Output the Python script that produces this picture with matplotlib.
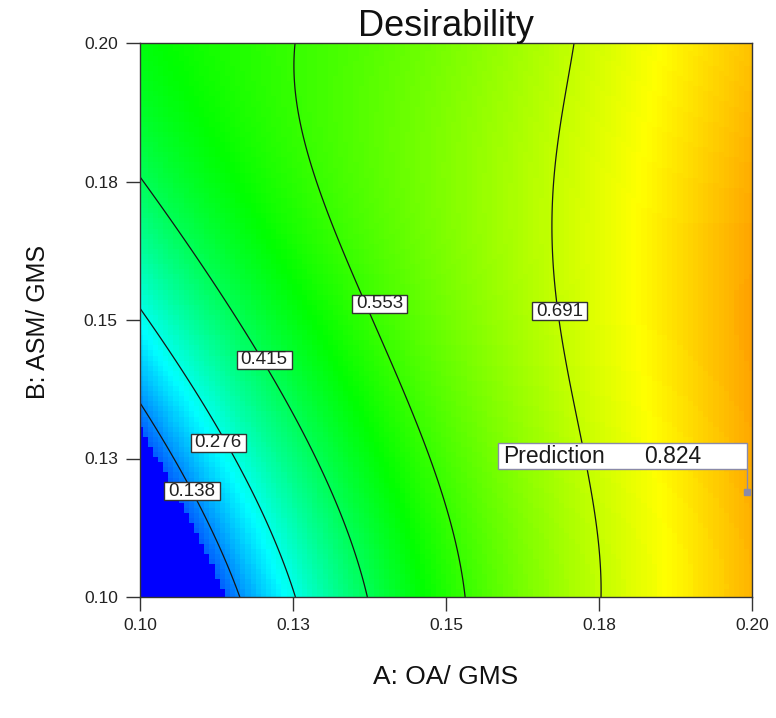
import numpy as np
import matplotlib.pyplot as plt
from matplotlib.colors import LinearSegmentedColormap
from matplotlib.patches import Rectangle

plt.rcParams['font.family'] = ['Liberation Sans', 'DejaVu Sans']

# response surface for overall desirability, coded factors x = (A-0.15)/0.05, y = (B-0.15)/0.05
# term order: 1, x, y, x2, xy, y2, x3, x2y, xy2, y3, x4, x3y, x2y2, xy3, y4
surface_coef = [0.6098, 0.2247, 0.0621, -0.0340, -0.1286, -0.0527,
                0.0656, 0.1241, 0.0457, -0.0182,
                -0.0250, -0.0583, -0.0341, 0.0114, 0.0163]
zero_below = 0.095   # desirability drops to zero past this point

levels = [0.138, 0.276, 0.415, 0.553, 0.691]
label_a = [0.1085, 0.1128, 0.1203, 0.1392, 0.1686]
label_b = [0.1191, 0.1278, 0.1428, 0.1529, 0.1516]

tick_vals = [0.10, 0.125, 0.15, 0.175, 0.20]
tick_text = ['0.10', '0.13', '0.15', '0.18', '0.20']

pred_a = 0.1992
pred_b = 0.1190
pred_d = 0.824


def desirability(a, b):
    x = (a - 0.15) / 0.05
    y = (b - 0.15) / 0.05
    d = np.zeros_like(x)
    k = 0
    for n in range(5):
        for j in range(n + 1):
            d = d + surface_coef[k] * x ** (n - j) * y ** j
            k += 1
    return d


cmap = LinearSegmentedColormap.from_list('desir', ['#0000ff', '#00ffff', '#00ff00', '#ffff00', '#ff0000'])

fig = plt.figure(figsize=(7.76, 7.18), dpi=100)
ax = fig.add_axes([140 / 776, 1 - 597 / 718, 612 / 776, 554 / 718])

# coloured map on a coarse grid
a = np.linspace(0.10, 0.20, 120)
b = np.linspace(0.10, 0.20, 110)
A, B = np.meshgrid(a, b)
D = desirability(A, B)
D = np.where(D < zero_below, 0.0, D)
ax.pcolormesh(A, B, D, cmap=cmap, vmin=0, vmax=1, shading='nearest')

# contour lines on a fine grid
af = np.linspace(0.10, 0.20, 400)
Af, Bf = np.meshgrid(af, af)
ax.contour(Af, Bf, desirability(Af, Bf), levels=levels, colors='#151515', linewidths=0.9)

for lev, la, lb in zip(levels, label_a, label_b):
    ax.add_patch(Rectangle((la - 0.0045, lb - 0.00165), 0.009, 0.0033, facecolor='white',
                           edgecolor='#333333', linewidth=1, zorder=4))
    ax.text(la, lb, '%.3f' % lev, ha='center', va='center', fontsize=13.5, color='#222222', zorder=5)

# prediction flag
ax.add_patch(Rectangle((0.1585, 0.1231), pred_a - 0.1585, 0.0047, facecolor='white',
                       edgecolor='#8a8aa8', linewidth=1, zorder=4))
ax.text(0.1593, 0.12545, 'Prediction', ha='left', va='center', fontsize=16.5, color='#1a1a1a', zorder=5)
ax.text(0.1824, 0.12545, '%.3f' % pred_d, ha='left', va='center', fontsize=16.5, color='#1a1a1a', zorder=5)
ax.plot([pred_a, pred_a], [0.1231, pred_b], color='#8a8aa8', lw=1, zorder=4, clip_on=False)
ax.plot([pred_a], [pred_b], 's', ms=4, color='#8a8aa8', zorder=5, clip_on=False)

ax.set_xlim(0.10, 0.20)
ax.set_ylim(0.10, 0.20)
ax.set_xticks(tick_vals)
ax.set_xticklabels(tick_text)
ax.set_yticks(tick_vals)
ax.set_yticklabels(tick_text)
ax.tick_params(length=10, width=1, color='#333333', labelsize=12.5, labelcolor='#222222')
ax.tick_params(axis='x', pad=5)
ax.tick_params(axis='y', pad=6)
for s in ax.spines.values():
    s.set_color('#333333')
    s.set_linewidth(1)

fig.text(446 / 776, 1 - 36 / 718, 'Desirability', ha='center', va='baseline', fontsize=26, color='#111111')
fig.text(446 / 776, 1 - 677 / 718, 'A: OA/ GMS', ha='center', va='center', fontsize=19, color='#111111')
fig.text(38 / 776, 1 - 322 / 718, 'B: ASM/ GMS', ha='center', va='center', rotation=90, fontsize=18,
         color='#111111')

fig.savefig('out.png')
